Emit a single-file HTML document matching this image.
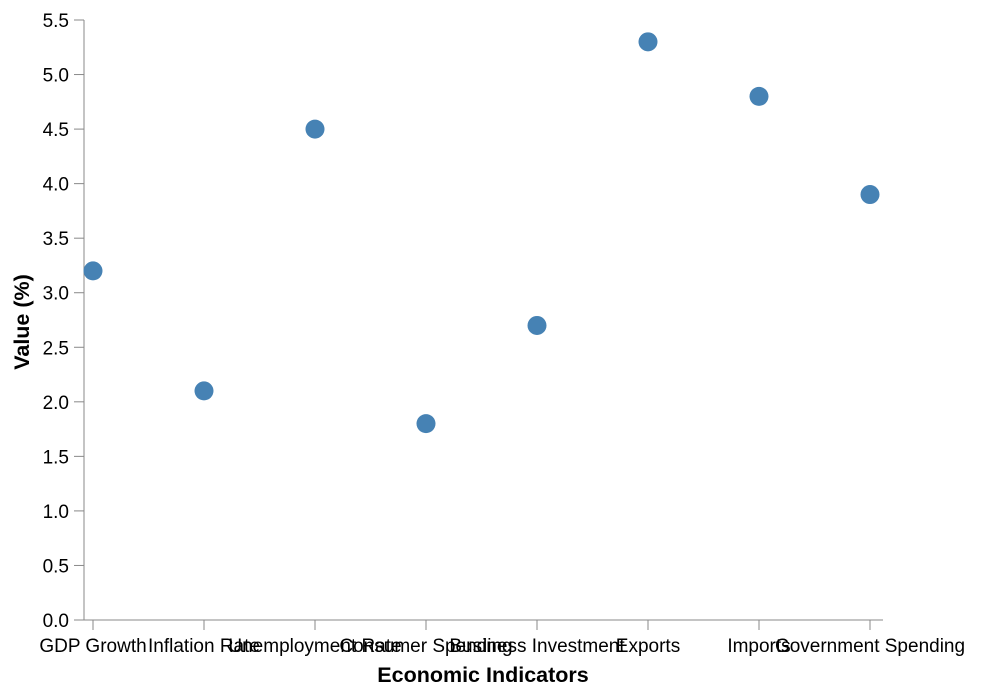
<!DOCTYPE html>
<html><head><meta charset="utf-8"><style>
body{margin:0;background:#fff}
svg{font-family:"Liberation Sans",Arial,sans-serif}
</style></head><body>
<svg id="chart" width="982" height="694">
<g id="yaxis"></g>
<g id="xaxis"></g>
<g id="marks"></g>
<text x="483" y="682" text-anchor="middle" font-size="21.5" font-weight="bold" fill="#000">Economic Indicators</text>
<text transform="translate(29,322) rotate(-90)" text-anchor="middle" font-size="21.5" font-weight="bold" fill="#000">Value (%)</text>
</svg>
<script>
const categories=["GDP Growth","Inflation Rate","Unemployment Rate","Consumer Spending","Business Investment","Exports","Imports","Government Spending"];
const values=[3.2,2.1,4.5,1.8,2.7,5.3,4.8,3.9];
const yTicks=[0,0.5,1,1.5,2,2.5,3,3.5,4,4.5,5,5.5];
const NS="http://www.w3.org/2000/svg";
const y0=620,yTop=20,yMax=5.5,axL=84,axR=883,x0=93,step=111;
const yS=v=>y0-(v/yMax)*(y0-yTop);
const xS=i=>x0+i*step;
function mk(t,a,p){const e=document.createElementNS(NS,t);for(const k in a)e.setAttribute(k,a[k]);p.appendChild(e);return e;}
const ya=document.getElementById('yaxis'),xa=document.getElementById('xaxis'),mg=document.getElementById('marks');
mk('line',{x1:axL,x2:axL,y1:yTop,y2:y0,stroke:'#888'},ya);
yTicks.forEach(v=>{
 const tk=mk('line',{x1:axL-10,x2:axL,y1:yS(v),y2:yS(v),stroke:'#888'},ya);
 
 
 const t=mk('text',{x:axL-15,y:yS(v)+7,'text-anchor':'end','font-size':19,fill:'#000'},ya);
 t.textContent=v.toFixed(1);
 
 
});
mk('line',{x1:axL,x2:axR,y1:y0,y2:y0,stroke:'#888'},xa);
categories.forEach((c,i)=>{
 const tk=mk('line',{x1:xS(i),x2:xS(i),y1:y0,y2:y0+10,stroke:'#888'},xa);
 
 
 const t=mk('text',{x:xS(i),y:652,'text-anchor':'middle','font-size':19,fill:'#000'},xa);
 t.textContent=c;
 
 
});
values.forEach((v,i)=>{
 const c=mk('circle',{cx:xS(i),cy:yS(values[i]),r:9.5,fill:'#4682b4'},mg);
 
 
});
</script>
</body></html>
